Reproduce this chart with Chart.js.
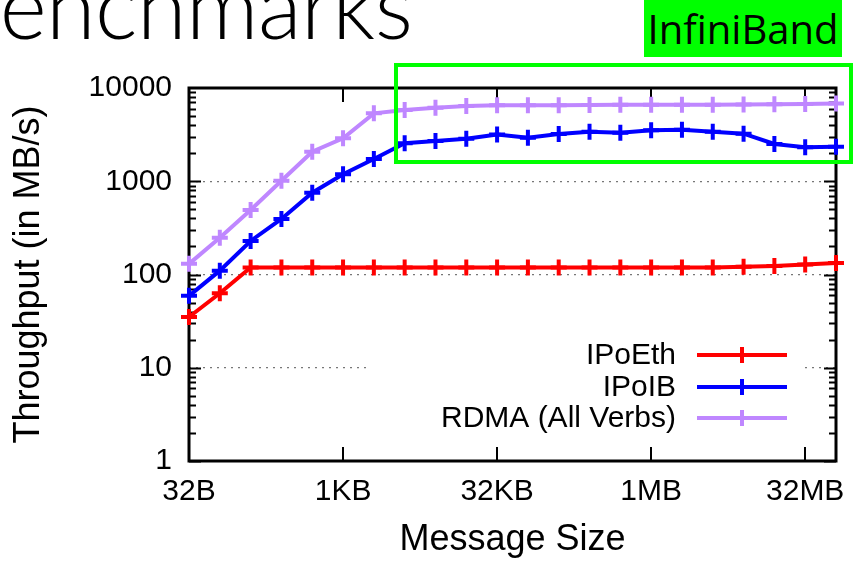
<!DOCTYPE html>
<html>
<head>
<meta charset="utf-8">
<script src="https://cdn.jsdelivr.net/npm/chart.js@4/dist/chart.umd.min.js"></script>
<style>
  html, body { margin: 0; padding: 0; background: #fff; }
  #wrap { position: relative; width: 859px; height: 563px; overflow: hidden; }
  #chart { position: absolute; left: 0; top: 0; }
  #slideTitle { position: absolute; left: -55px; top: -36px; font-family: Lato, sans-serif; font-weight: 300; font-size: 90px; letter-spacing: -0.5px; line-height: 80px; white-space: nowrap; color: #000; }
  #ibLabel { position: absolute; left: 644px; top: 0; width: 198px; height: 57px; background: #00ff00; color: #000;
             font-family: 'Open Sans', sans-serif; font-size: 40px; line-height: 57px; text-align: center; }
  #ibBox { position: absolute; left: 394px; top: 63px; width: 451px; height: 93px; border: 4px solid #00ff00; pointer-events: none; }
</style>
</head>
<body>
<div id="wrap">
  <canvas id="chart" width="859" height="563"></canvas>
  <div id="slideTitle"><span id="firstLetter">B</span>enchmarks</div>
  <div id="ibLabel">InfiniBand</div>
  <div id="ibBox"></div>
</div>
<script>
// message sizes in bytes, one point per power of two
const sizes = [32, 64, 128, 256, 512, 1024, 2048, 4096, 8192, 16384, 32768, 65536,
  131072, 262144, 524288, 1048576, 2097152, 4194304, 8388608, 16777216, 33554432, 67108864];

// throughput in MB/s
const ipoeth = [35, 63, 119, 119, 119, 119, 119, 119, 119, 119, 119, 119,
  119, 119, 119, 119, 119, 119, 121, 123, 128, 133];
const ipoib = [59, 110, 229, 394, 754, 1187, 1733, 2553, 2704, 2860, 3170, 2930,
  3210, 3400, 3320, 3520, 3570, 3400, 3235, 2510, 2310, 2350];
const rdma = [130, 248, 492, 1014, 2075, 2890, 5350, 5800, 6150, 6410, 6550, 6550,
  6550, 6580, 6600, 6600, 6600, 6620, 6650, 6700, 6750, 6800];

const seriesNames = ['IPoEth', 'IPoIB', 'RDMA (All Verbs)'];
const seriesColors = ['#ff0000', '#0000ff', '#bf87ff'];

const xTickValues = [32, 1024, 32768, 1048576, 33554432];
const xTickLabels = ['32B', '1KB', '32KB', '1MB', '32MB'];
const yTickValues = [1, 10, 100, 1000, 10000];
const yTickLabels = ['1', '10', '100', '1000', '10000'];
const yGridValues = [10, 100, 1000];

// push the "B" of the slide title off the left edge
const fl = document.getElementById('firstLetter');
document.getElementById('slideTitle').style.left = (-fl.offsetWidth) + 'px';

Chart.defaults.font.family = "'Liberation Sans', Arial, sans-serif";
Chart.defaults.color = '#000';

function makeDataset(label, values, color) {
  return {
    label: label,
    data: sizes.map((s, i) => ({ x: s, y: values[i] })),
    borderColor: color,
    backgroundColor: color,
    borderWidth: 4,
    pointStyle: 'cross',
    pointRadius: 8,
    pointHoverRadius: 8,
    pointBorderWidth: 4,
    tension: 0,
    clip: 12
  };
}

const gnuplotDecor = {
  id: 'gnuplotDecor',
  beforeDatasetsDraw(chart) {
    const ctx = chart.ctx;
    const a = chart.chartArea;
    const xs = chart.scales.x, ys = chart.scales.y;
    ctx.save();
    ctx.strokeStyle = '#000';
    ctx.lineWidth = 2;
    // inward y ticks, left and right
    for (let k = 0; k < 4; k++) {
      for (let d = 1; d <= 9; d++) {
        const v = d * Math.pow(10, k);
        const py = Math.round(ys.getPixelForValue(v)) + 0.5;
        const len = d === 1 ? 12 : 7;
        ctx.beginPath();
        ctx.moveTo(a.left, py); ctx.lineTo(a.left + len, py);
        ctx.moveTo(a.right, py); ctx.lineTo(a.right - len, py);
        ctx.stroke();
      }
    }
    // inward x ticks, top and bottom
    xTickValues.forEach(v => {
      const px = Math.round(xs.getPixelForValue(v));
      ctx.beginPath();
      ctx.moveTo(px, a.bottom); ctx.lineTo(px, a.bottom - 14);
      ctx.moveTo(px, a.top); ctx.lineTo(px, a.top + 14);
      ctx.stroke();
    });
    ctx.lineWidth = 3;
    ctx.strokeRect(a.left, a.top, a.right - a.left, a.bottom - a.top);
    ctx.restore();
  },
  afterDatasetsDraw(chart) {
    const ctx = chart.ctx;
    ctx.save();
    // opaque key box
    ctx.fillStyle = '#fff';
    ctx.fillRect(370, 338, 435, 98);
    ctx.font = "30px 'Liberation Sans', Arial, sans-serif";
    ctx.textAlign = 'right';
    ctx.textBaseline = 'middle';
    const rows = [355, 387, 418];
    seriesNames.forEach((name, i) => {
      const y = rows[i];
      ctx.fillStyle = '#000';
      ctx.fillText(name, 676, y + 1);
      ctx.strokeStyle = seriesColors[i];
      ctx.lineWidth = 4;
      ctx.beginPath();
      ctx.moveTo(697, y); ctx.lineTo(787, y);
      ctx.stroke();
      ctx.beginPath();
      ctx.moveTo(742, y - 8); ctx.lineTo(742, y + 8);
      ctx.stroke();
    });
    ctx.restore();
  }
};

new Chart(document.getElementById('chart').getContext('2d'), {
  type: 'line',
  data: {
    datasets: [
      makeDataset(seriesNames[0], ipoeth, seriesColors[0]),
      makeDataset(seriesNames[1], ipoib, seriesColors[1]),
      makeDataset(seriesNames[2], rdma, seriesColors[2])
    ]
  },
  options: {
    responsive: false,
    animation: false,
    events: [],
    layout: { padding: { left: 0, right: 23, top: 88, bottom: 0 } },
    plugins: { legend: { display: false }, tooltip: { enabled: false } },
    scales: {
      x: {
        type: 'logarithmic',
        min: 32,
        max: 67108864,
        afterBuildTicks: axis => { axis.ticks = xTickValues.map(v => ({ value: v })); },
        afterFit: axis => { axis.height = 102; },
        ticks: {
          autoSkip: false,
          maxRotation: 0,
          padding: 13,
          font: { size: 30 },
          callback: (v, i) => xTickLabels[i]
        },
        grid: { display: false, drawTicks: false },
        border: { display: false },
        title: { display: true, text: 'Message Size', font: { size: 36 }, padding: { top: 0, bottom: 1 } }
      },
      y: {
        type: 'logarithmic',
        min: 1,
        max: 10000,
        afterBuildTicks: axis => { axis.ticks = yTickValues.map(v => ({ value: v })); },
        afterFit: axis => { axis.width = 189; },
        ticks: {
          padding: 17,
          font: { size: 30 },
          callback: (v, i) => yTickLabels[i]
        },
        grid: {
          drawTicks: false,
          lineWidth: 1.2,
          color: c => (c.tick && yGridValues.includes(c.tick.value)) ? '#777' : 'rgba(0,0,0,0)'
        },
        border: { display: false, dash: [2, 5] },
        title: { display: true, text: 'Throughput (in MB/s)', font: { size: 36 }, padding: { top: 7, bottom: 0 } }
      }
    }
  },
  plugins: [gnuplotDecor]
});
</script>
</body>
</html>
